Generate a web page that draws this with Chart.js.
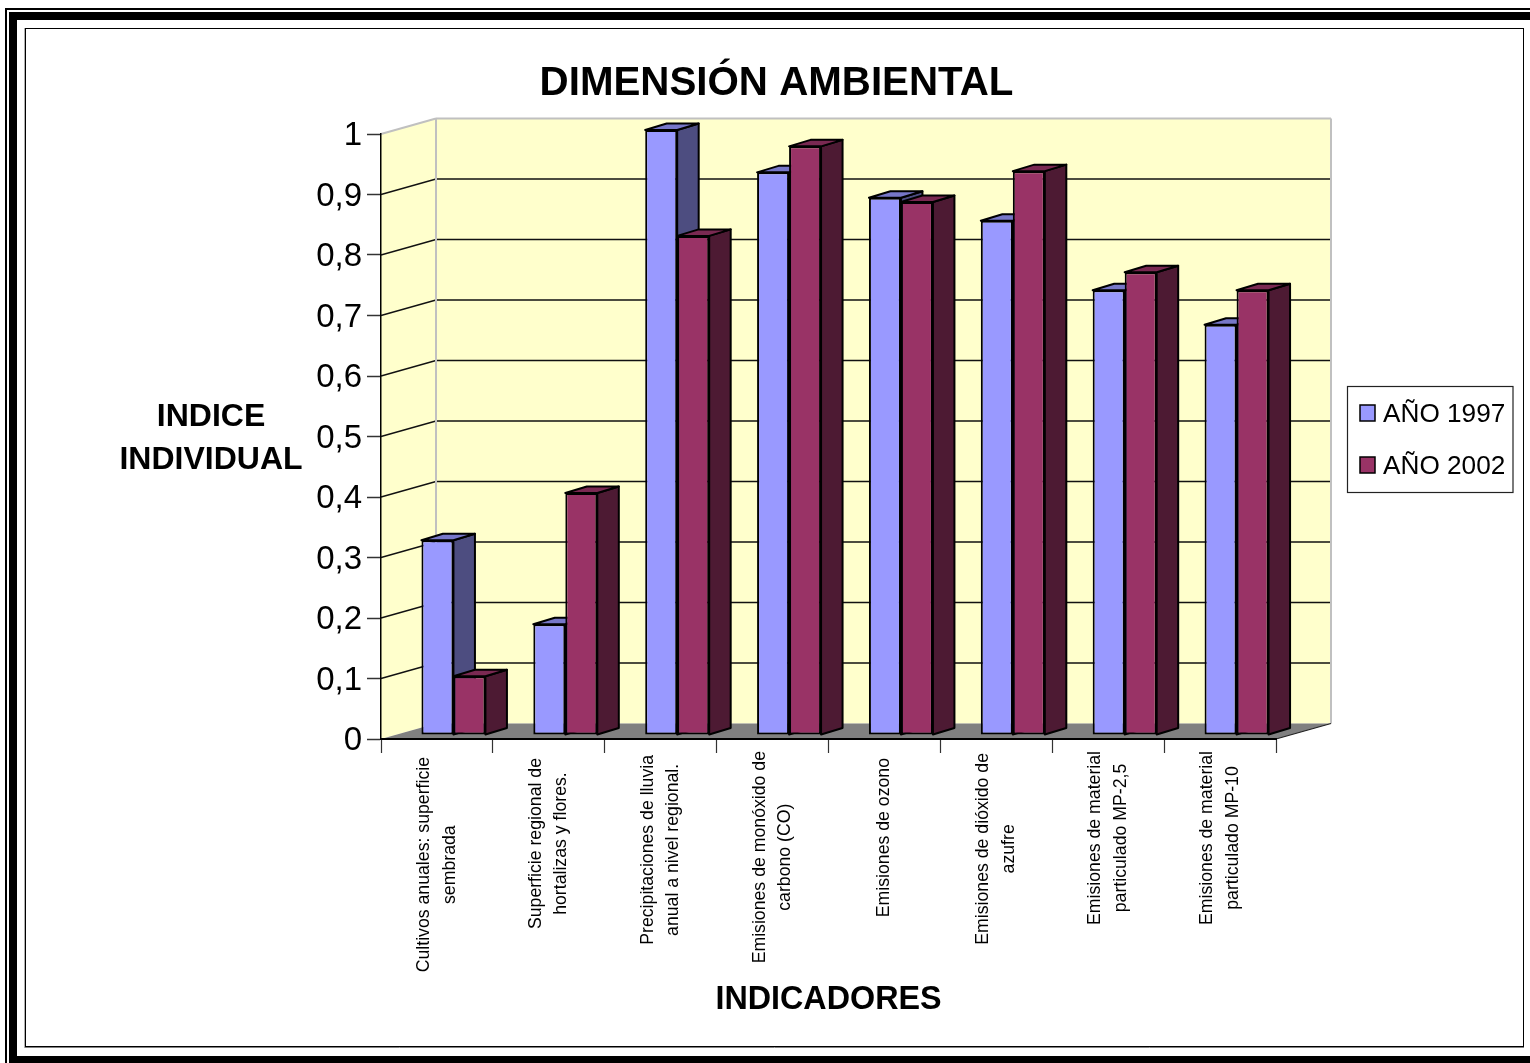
<!DOCTYPE html>
<html>
<head>
<meta charset="utf-8">
<title>Dimensión ambiental</title>
<style>
  html, body { margin: 0; padding: 0; background: #fff; }
  canvas { display: block; }
</style>
<script src="https://cdn.jsdelivr.net/npm/chart.js@4/dist/chart.umd.js"></script>
</head>
<body>
<canvas id="chart" width="1530" height="1063"></canvas>
<script>
const categories = [
    ['Cultivos anuales: superficie', 'sembrada'],
    ['Superficie regional de', 'hortalizas y flores.'],
    ['Precipitaciones de lluvia', 'anual a nivel regional.'],
    ['Emisiones de monóxido de', 'carbono (CO)'],
    ['Emisiones de ozono'],
    ['Emisiones de dióxido de', 'azufre'],
    ['Emisiones de material', 'particulado MP-2,5'],
    ['Emisiones de material', 'particulado MP-10']
];
const values1997 = [0.322, 0.183, 1.0, 0.93, 0.888, 0.85, 0.735, 0.678];
const values2002 = [0.097, 0.40, 0.825, 0.973, 0.881, 0.932, 0.765, 0.735];
const yTickLabels = ['0', '0,1', '0,2', '0,3', '0,4', '0,5', '0,6', '0,7', '0,8', '0,9', '1'];

const FONT = '"Liberation Sans", Arial, sans-serif';

// wall depth and bar depth of the fake 3D box
const WALL = { dx: 55, dy: 15.5 };
const BAR_SHIFT = { dx: 16.5, dy: 4 };
const BAR_SIDE = { dx: 21.5, dy: 6.5 };
const COLORS = {
    '#9999FF': { side: '#4D4D80', top: '#7777C8' },
    '#993366': { side: '#4D1A33', top: '#7A2952' }
};

function poly(ctx, pts, fill, stroke, lw) {
    ctx.beginPath();
    pts.forEach((p, i) => i ? ctx.lineTo(p[0], p[1]) : ctx.moveTo(p[0], p[1]));
    ctx.closePath();
    if (fill) { ctx.fillStyle = fill; ctx.fill(); }
    if (stroke) { ctx.strokeStyle = stroke; ctx.lineWidth = lw; ctx.stroke(); }
}

function line(ctx, x1, y1, x2, y2, color, lw) {
    ctx.beginPath();
    ctx.moveTo(x1, y1);
    ctx.lineTo(x2, y2);
    ctx.strokeStyle = color;
    ctx.lineWidth = lw;
    ctx.stroke();
}

function text(ctx, str, x, y, font, align) {
    ctx.font = font;
    ctx.fillStyle = '#000';
    ctx.textAlign = align || 'center';
    ctx.textBaseline = 'middle';
    ctx.fillText(str, x, y);
}

// page frame, walls, floor, gridlines
const boxPlugin = {
    id: 'box3d',
    beforeDraw(chart) {
        const ctx = chart.ctx;
        const { left, right, top, bottom } = chart.chartArea;
        const d = WALL;
        ctx.save();
        ctx.fillStyle = '#000';
        ctx.fillRect(5, 8, 1525, 2);
        ctx.fillRect(5, 8, 2, 1055);
        ctx.fillRect(9, 12, 1521, 8);
        ctx.fillRect(9, 12, 8, 1051);
        ctx.fillRect(9, 1056, 1521, 7);
        ctx.strokeStyle = '#000';
        ctx.lineWidth = 1;
        ctx.strokeRect(25.5, 28.5, 1498, 1018);
        line(ctx, 24.5, 28, 24.5, 1048, '#B0B0B0', 1);
        line(ctx, 25, 1047.5, 1524, 1047.5, '#808080', 1);

        // side wall and back wall
        poly(ctx, [[left, top], [left + d.dx, top - d.dy], [left + d.dx, bottom - d.dy], [left, bottom]], '#FFFFCC');
        poly(ctx, [[left + d.dx, top - d.dy], [right + d.dx, top - d.dy], [right + d.dx, bottom - d.dy], [left + d.dx, bottom - d.dy]], '#FFFFCC');
        // floor
        poly(ctx, [[left, bottom], [right, bottom], [right + d.dx, bottom - d.dy], [left + d.dx, bottom - d.dy]], '#808080');

        // gridlines follow the y scale round the corner
        const yScale = chart.scales.y;
        yScale.ticks.forEach(t => {
            const y = yScale.getPixelForValue(t.value);
            if (t.value === 0 || t.value === 1) return;
            line(ctx, left, y, left + d.dx, y - d.dy, '#111', 1.3);
            line(ctx, left + d.dx, y - d.dy, right + d.dx, y - d.dy, '#111', 1.3);
        });
        line(ctx, left, top, left + d.dx, top - d.dy, '#C0C0C0', 2);
        line(ctx, left + d.dx, top - d.dy, right + d.dx, top - d.dy, '#C0C0C0', 2);
        line(ctx, left + d.dx, top - d.dy, left + d.dx, bottom - d.dy, '#C0C0C0', 2);
        line(ctx, right + d.dx, top - d.dy, right + d.dx, bottom - d.dy, '#C0C0C0', 2);
        line(ctx, right, bottom, right + d.dx, bottom - d.dy, '#222', 1.2);
        ctx.restore();
    },
    // sides and tops go first so the fronts of the next series cover them
    beforeDatasetsDraw(chart) {
        const ctx = chart.ctx;
        const s = BAR_SIDE;
        ctx.save();
        ctx.translate(BAR_SHIFT.dx, -BAR_SHIFT.dy);
        ctx.lineJoin = 'round';
        chart.data.datasets.forEach((ds, i) => {
            const c = COLORS[ds.backgroundColor];
            chart.getDatasetMeta(i).data.forEach(bar => {
                const l = bar.x - bar.width / 2, r = bar.x + bar.width / 2;
                poly(ctx, [[r, bar.y], [r + s.dx, bar.y - s.dy], [r + s.dx, bar.base - s.dy], [r, bar.base]], c.side, '#000', 2);
                poly(ctx, [[l, bar.y], [l + s.dx, bar.y - s.dy], [r + s.dx, bar.y - s.dy], [r, bar.y]], c.top, '#000', 2);
            });
        });
        ctx.restore();
    },
    beforeDatasetDraw(chart) {
        chart.ctx.save();
        chart.ctx.translate(BAR_SHIFT.dx, -BAR_SHIFT.dy);
    },
    afterDatasetDraw(chart) {
        chart.ctx.restore();
    },
    afterDraw(chart) {
        const ctx = chart.ctx;
        const xScale = chart.scales.x;
        ctx.save();
        text(ctx, 'DIMENSIÓN AMBIENTAL', 776.5, 84, 'bold 40.3px ' + FONT);
        text(ctx, 'INDICE', 211, 417, 'bold 32px ' + FONT);
        text(ctx, 'INDIVIDUAL', 211, 460, 'bold 32px ' + FONT);
        text(ctx, 'INDICADORES', 828.5, 1000, 'bold 32.3px ' + FONT);

        // category labels, rotated, lines centred on each other
        const tops = [757, 758, 755, 751, 758, 753, 751, 751];
        const labelFont = '17.7px ' + FONT;
        categories.forEach((lines, i) => {
            const cx = xScale.getPixelForValue(i);
            ctx.font = labelFont;
            const w = Math.max(...lines.map(l => ctx.measureText(l).width));
            lines.forEach((l, j) => {
                ctx.save();
                ctx.translate(cx + (j - (lines.length - 1) / 2) * 25.5, tops[i] + w / 2);
                ctx.rotate(-Math.PI / 2);
                text(ctx, l, 0, 0, labelFont);
                ctx.restore();
            });
        });

        // legend box
        ctx.fillStyle = '#fff';
        ctx.fillRect(1347, 386, 166, 107);
        ctx.strokeStyle = '#222';
        ctx.lineWidth = 1.2;
        ctx.strokeRect(1347.5, 386.5, 165.5, 106);
        chart.data.datasets.forEach((ds, i) => {
            const y = 413 + i * 52;
            ctx.fillStyle = ds.backgroundColor;
            ctx.fillRect(1360, y - 8, 15, 16);
            ctx.strokeStyle = '#000';
            ctx.lineWidth = 1.5;
            ctx.strokeRect(1360, y - 8, 15, 16);
            text(ctx, ds.label, 1383, y + 2, '26.2px ' + FONT, 'left');
        });
        ctx.restore();
    }
};

new Chart(document.getElementById('chart'), {
    type: 'bar',
    data: {
        labels: categories,
        datasets: [
            { label: 'AÑO 1997', data: values1997, backgroundColor: '#9999FF' },
            { label: 'AÑO 2002', data: values2002, backgroundColor: '#993366' }
        ]
    },
    options: {
        responsive: false,
        animation: false,
        devicePixelRatio: 1,
        layout: { padding: { left: 0, top: 134, right: 254, bottom: 0 } },
        datasets: {
            bar: {
                categoryPercentage: 0.572,
                barPercentage: 1,
                borderColor: '#000',
                borderWidth: 2,
                borderSkipped: false,
                clip: false
            }
        },
        plugins: {
            legend: { display: false },
            title: { display: false },
            tooltip: { enabled: false }
        },
        scales: {
            x: {
                afterFit: s => { s.height = 324; },
                border: { color: '#000', width: 2 },
                grid: { display: true, drawOnChartArea: false, tickLength: 14, color: '#333', tickWidth: 1.2 },
                ticks: { display: false }
            },
            y: {
                min: 0,
                max: 1,
                afterFit: s => { s.width = 381; },
                border: { color: '#000', width: 1.5 },
                grid: { display: true, drawOnChartArea: false, tickLength: 14, color: '#333', tickWidth: 1.5 },
                ticks: {
                    stepSize: 0.1,
                    padding: 5,
                    labelOffset: 2,
                    color: '#000',
                    font: { family: FONT, size: 33 },
                    callback: (v, i) => yTickLabels[i]
                }
            }
        }
    },
    plugins: [boxPlugin]
});
</script>
</body>
</html>
